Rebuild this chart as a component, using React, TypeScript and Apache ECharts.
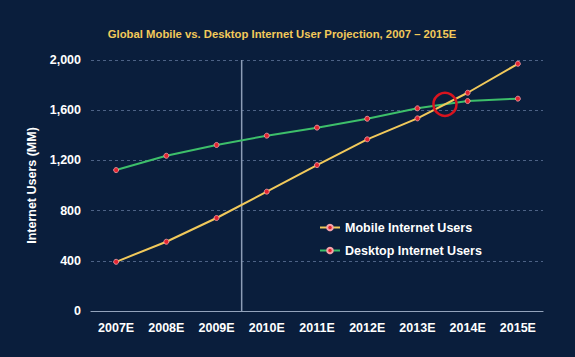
import React, { useEffect, useRef } from "react";
import * as echarts from "echarts";

const years = ["2007E", "2008E", "2009E", "2010E", "2011E", "2012E", "2013E", "2014E", "2015E"];
const mobileUsers = [392, 552, 741, 951, 1163, 1368, 1535, 1739, 1970];
const desktopUsers = [1123, 1237, 1323, 1397, 1461, 1532, 1615, 1673, 1692];
const yTicks = { min: 0, max: 2000, interval: 400 };

const FONT = "'Liberation Sans', Arial, sans-serif";

export default function App() {
  const ref = useRef<HTMLDivElement>(null);
  useEffect(() => {
    if (!ref.current) return;
    const chart = echarts.init(ref.current, null, { renderer: "svg" });
    const marker = {
      color: "#e3242f",
      borderColor: "#f6a3aa",
      borderWidth: 0.8,
    };
    chart.setOption({
      animation: false,
      backgroundColor: "#0a1e3c",
      title: {
        text: "Global Mobile vs. Desktop Internet User Projection, 2007 – 2015E",
        left: 277,
        textAlign: "center",
        top: 23,
        textStyle: { color: "#f2c95a", fontSize: 11.3, fontWeight: "bold", fontFamily: FONT },
      },
      grid: { left: 91, right: 32, top: 60, bottom: 46 },
      legend: {
        orient: "vertical",
        left: 314,
        top: 216,
        itemGap: 10,
        itemWidth: 20,
        itemHeight: 7,
        textStyle: { color: "#ffffff", fontSize: 12.5, fontWeight: "bold", fontFamily: FONT },
        data: ["Mobile Internet Users", "Desktop Internet Users"],
      },
      xAxis: {
        type: "category",
        data: years,
        boundaryGap: true,
        axisLine: { lineStyle: { color: "#93a3bb", width: 1.2 } },
        axisTick: { inside: true, length: 4, lineStyle: { color: "#93a3bb" } },
        axisLabel: { color: "#ffffff", fontSize: 12.5, fontWeight: "bold", fontFamily: FONT, margin: 10 },
        splitLine: { show: false },
      },
      yAxis: {
        type: "value",
        min: yTicks.min,
        max: yTicks.max,
        interval: yTicks.interval,
        name: "Internet Users (MM)",
        nameLocation: "middle",
        nameGap: 44,
        nameTextStyle: { color: "#ffffff", fontSize: 12.5, fontWeight: "bold", fontFamily: FONT },
        axisLine: { show: false },
        axisTick: { show: false },
        axisLabel: {
          color: "#ffffff",
          fontSize: 12.5,
          fontWeight: "bold",
          fontFamily: FONT,
          margin: 10,
          formatter: (v: number) => v.toLocaleString("en-US"),
        },
        splitLine: { lineStyle: { color: "#4d6285", type: [3, 3], width: 1 } },
      },
      series: [
        {
          name: "Mobile Internet Users",
          type: "line",
          data: mobileUsers,
          symbol: "circle",
          symbolSize: 5,
          lineStyle: { color: "#f1c95b", width: 2 },
          itemStyle: marker,
          z: 3,
        },
        {
          name: "Desktop Internet Users",
          type: "line",
          data: desktopUsers,
          symbol: "circle",
          symbolSize: 5,
          lineStyle: { color: "#3dbf6a", width: 2 },
          itemStyle: marker,
          z: 2,
        },
      ],
    });

    // vertical divider between 2009E and 2010E
    const x2 = chart.convertToPixel({ xAxisIndex: 0 }, years[2]) as number;
    const x3 = chart.convertToPixel({ xAxisIndex: 0 }, years[3]) as number;
    const yTop = chart.convertToPixel({ yAxisIndex: 0 }, yTicks.max) as number;
    const yBot = chart.convertToPixel({ yAxisIndex: 0 }, yTicks.min) as number;
    const xDiv = (x2 + x3) / 2;

    // crossing point of the two series
    let cx = 0;
    let cy = 0;
    for (let i = 0; i < years.length - 1; i++) {
      const d0 = mobileUsers[i] - desktopUsers[i];
      const d1 = mobileUsers[i + 1] - desktopUsers[i + 1];
      if (d0 <= 0 && d1 > 0) {
        const t = -d0 / (d1 - d0);
        const xa = chart.convertToPixel({ xAxisIndex: 0 }, years[i]) as number;
        const xb = chart.convertToPixel({ xAxisIndex: 0 }, years[i + 1]) as number;
        const v = mobileUsers[i] + t * (mobileUsers[i + 1] - mobileUsers[i]);
        cx = xa + t * (xb - xa);
        cy = chart.convertToPixel({ yAxisIndex: 0 }, v) as number;
        break;
      }
    }

    chart.setOption({
      graphic: [
        {
          type: "line",
          shape: { x1: xDiv, y1: yTop, x2: xDiv, y2: yBot },
          style: { stroke: "#8d9db6", lineWidth: 1.5 },
          z: 1,
        },
        {
          type: "circle",
          shape: { cx, cy, r: 11.5 },
          style: { fill: "none", stroke: "#d8141f", lineWidth: 2.5 },
          z: 10,
        },
      ],
    });

    return () => chart.dispose();
  }, []);
  return (
    <div
      ref={ref}
      style={{ position: "fixed", left: 0, top: 0, width: 575, height: 357 }}
    />
  );
}
